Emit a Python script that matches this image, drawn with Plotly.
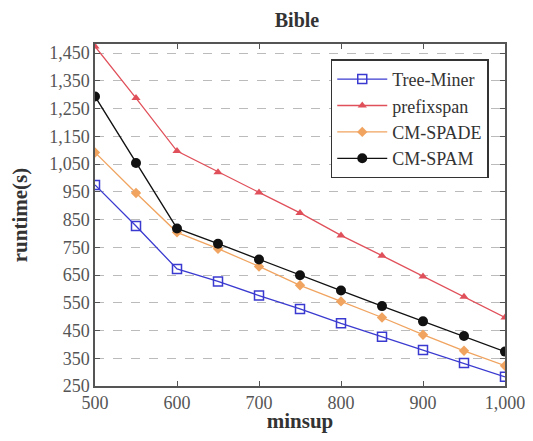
import plotly.graph_objects as go

minsup = [500, 550, 600, 650, 700, 750, 800, 850, 900, 950, 1000]
tree_miner = [975, 827, 672, 627, 576, 528, 476, 428, 380, 333, 283]
prefixspan = [1474, 1288, 1097, 1021, 948, 874, 793, 720, 645, 572, 497]
cm_spade = [1092, 946, 804, 745, 681, 613, 555, 497, 435, 377, 323]
cm_spam = [1294, 1054, 818, 763, 706, 649, 594, 538, 483, 430, 374]
y_ticks = list(range(250, 1451, 100))
x_ticks = [500, 600, 700, 800, 900, 1000]

FONT = "Liberation Serif, DejaVu Serif, serif"

series = [
    ("Tree-Miner", tree_miner, "#3a3ad0", dict(symbol="square-open", size=9, line=dict(width=1.5, color="#3a3ad0"))),
    ("prefixspan", prefixspan, "#e0505a", dict(symbol="triangle-up", size=8)),
    ("CM-SPADE", cm_spade, "#f0a460", dict(symbol="diamond", size=8)),
    ("CM-SPAM", cm_spam, "#111111", dict(symbol="circle", size=10)),
]

fig = go.Figure()
for name, vals, color, marker in series:
    m = dict(color=color)
    m.update(marker)
    fig.add_trace(go.Scatter(x=minsup, y=vals, name=name, mode="lines+markers",
                             line=dict(color=color, width=1.3), marker=m))

axis_common = dict(
    showline=True, linecolor="#555555", linewidth=1.5, mirror="ticks",
    ticks="inside", ticklen=5, tickcolor="#555555", tickwidth=1.2,
    tickfont=dict(family=FONT, size=18, color="#555555"),
    zeroline=False, automargin=False, ticklabeloverflow="allow",
)

# page body has an 8px margin, so the figure is sized to fit the 533x441 window
W, H = 517, 425
fig.update_layout(
    width=W, height=H,
    margin=dict(l=87, r=20, t=36, b=47),
    paper_bgcolor="white", plot_bgcolor="white",
    title=dict(text="<b>Bible</b>", x=289 / W, xanchor="center", y=1 - 12 / H, yanchor="middle",
               font=dict(family=FONT, size=20, color="#333333")),
    xaxis=dict(range=[500, 1000], tickvals=x_ticks, tickformat=",", showgrid=False,
               title=dict(text="<b>minsup</b>", font=dict(family=FONT, size=21, color="#333333"), standoff=2),
               **axis_common),
    yaxis=dict(range=[250, 1483], tickvals=y_ticks, tickformat=",", showgrid=True,
               gridcolor="#bbbbbb", griddash="dash", gridwidth=1,
               title=dict(text="<b>runtime(s)</b>", font=dict(family=FONT, size=21, color="#333333"), standoff=18),
               **axis_common),
    legend=dict(x=0.575, y=0.955, xanchor="left", yanchor="top",
                bordercolor="#333333", borderwidth=1.5, bgcolor="white",
                font=dict(family=FONT, size=18, color="#333333"),
                tracegroupgap=0, itemwidth=50),
    showlegend=True,
)

fig.write_html("out.html")
